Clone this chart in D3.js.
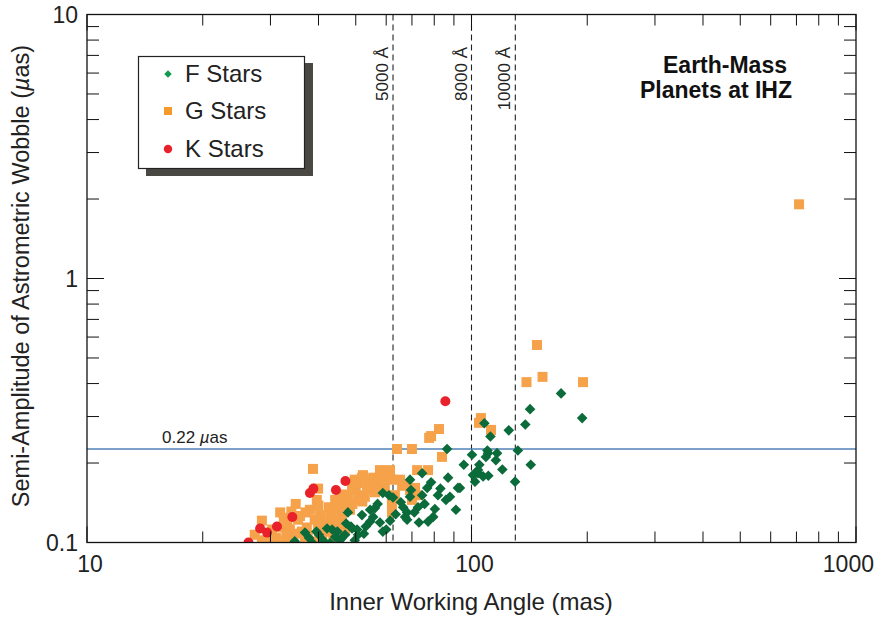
<!DOCTYPE html>
<html>
<head>
<meta charset="utf-8">
<script src="https://cdn.jsdelivr.net/npm/d3@7"></script>
<style>
  html, body { margin: 0; padding: 0; background: #ffffff; }
  svg { display: block; font-family: "Liberation Sans", Arial, Helvetica, sans-serif; }
</style>
</head>
<body>
<svg id="chart" width="878" height="618"></svg>
<script>
// ---------------- DATA ----------------
// [Inner Working Angle (mas), Semi-amplitude of astrometric wobble (µas)]
const fStars = [
  [36.9,0.109],[34.7,0.101],[38.5,0.100],[40.1,0.107],[42.1,0.113],[43.4,0.112],[44.2,0.105],[45.5,0.102],
  [47.7,0.130],[48.9,0.113],[49.7,0.102],[46.9,0.107],[46.0,0.104],[41.1,0.102],[42.9,0.0996],[50.4,0.112],
  [48.6,0.115],[50.7,0.107],[51.9,0.127],[53.1,0.115],[54.5,0.120],[54.5,0.133],[56.1,0.135],[57.8,0.119],
  [58.8,0.110],[58.8,0.154],[61.0,0.151],[61.4,0.121],[62.5,0.148],[66.4,0.136],[67.2,0.125],[68.0,0.122],
  [68.0,0.130],[69.2,0.149],[69.2,0.173],[69.6,0.158],[72.6,0.136],[73.0,0.119],[74.4,0.183],[74.4,0.151],
  [77.1,0.120],[76.7,0.161],[78.5,0.169],[80.3,0.134],[81.8,0.151],[85.8,0.145],[86.9,0.176],[87.9,0.149],
  [91.1,0.133],[92.2,0.161],[86.4,0.226],[95.5,0.197],[100.3,0.215],[104.0,0.188],[60.0,0.112],
  [37.8,0.104],[39.5,0.110],[44.8,0.110],[47.2,0.118],[52.5,0.108],[55.5,0.125],[57.0,0.140],[63.5,0.128],
  [65.5,0.142],[71.0,0.130],[75.5,0.140],[79.5,0.125],[83.0,0.160],
  [171,0.367],[142,0.320],[194,0.296],[138,0.280],[108,0.283],[125,0.266],[112,0.252],[132,0.223],
  [110,0.223],[110.4,0.218],[116.5,0.218],[109.0,0.211],[115.7,0.205],[104.8,0.197],[142.6,0.197],
  [120.3,0.189],[102.1,0.182],[104.0,0.183],[100.9,0.180],[110.6,0.179],[107.2,0.178],[102.1,0.170],
  [129.8,0.170],[93.3,0.161]
];
const gStars = [
  [27.3,0.107],[28.5,0.121],[28.5,0.102],[29.6,0.105],[30.3,0.112],[30.8,0.099],[31.8,0.130],[32.2,0.114],
  [32.8,0.102],[33.2,0.120],[33.7,0.112],[34.1,0.104],[34.9,0.140],[35.4,0.122],[35.8,0.126],[36.2,0.110],
  [36.9,0.102],[37.3,0.114],[38.0,0.133],[38.7,0.190],[39.1,0.122],[39.6,0.145],[39.9,0.160],[39.9,0.114],
  [40.4,0.127],[40.9,0.102],[41.6,0.110],[42.1,0.119],[42.6,0.136],[42.9,0.125],[43.7,0.105],[44.2,0.145],
  [44.7,0.117],[45.5,0.141],[46.0,0.124],[46.9,0.112],[47.7,0.151],[47.7,0.142],[48.3,0.133],[48.9,0.161],
  [49.7,0.173],[50.0,0.158],[50.4,0.168],[50.7,0.145],[51.3,0.151],[51.9,0.176],[52.2,0.180],[52.8,0.149],
  [53.5,0.162],[54.5,0.173],[55.5,0.176],[56.1,0.155],[56.8,0.165],[57.8,0.188],[58.5,0.176],[59.2,0.158],
  [59.5,0.162],[60.6,0.185],[61.4,0.188],[61.8,0.173],[62.1,0.141],[62.1,0.130],[63.2,0.151],[65.2,0.173],
  [66.0,0.164],[67.2,0.165],[69.2,0.158],[71.3,0.161],[72.2,0.151],[70.0,0.145],[72.2,0.188],[77.1,0.188],
  [29.0,0.100],[31.0,0.104],[33.0,0.106],[35.0,0.108],[37.5,0.106],[39.0,0.101],[41.0,0.117],[43.0,0.129],
  [45.0,0.133],[47.0,0.137],[49.0,0.140],[52.0,0.143],[54.0,0.160],[56.5,0.170],[46.0,0.152],[44.5,0.122],
  [40.0,0.138],[37.0,0.130],[34.0,0.131],[32.5,0.124],
  [64.0,0.226],[70.0,0.226],[78.5,0.253],[77.6,0.249],[82.3,0.269],[83.8,0.211],
  [105.8,0.296],[104.6,0.284],[112.4,0.267],[139,0.405],[148,0.56],[153,0.424],[195,0.405],[711,1.91]
];
const kStars = [
  [26.3,0.100],[28.2,0.113],[29.4,0.109],[31.2,0.115],[34.2,0.125],[38.0,0.154],[38.8,0.160],
  [44.4,0.158],[47.0,0.171],[85.5,0.343]
];
const wavelengthLines = [ { iwa: 62.5, label: "5000 Å" }, { iwa: 100, label: "8000 Å" }, { iwa: 130, label: "10000 Å" } ];
const thresholdValue = 0.226;
const thresholdLabel = ["0.22 ", "µ", "as"];
const xMajorTicks = [10, 100, 1000];
const xMinorTicks = [20,30,40,50,60,70,80,90,200,300,400,500,600,700,800,900];
const yMajorTicks = [0.1, 1, 10];
const yMinorTicks = [0.2,0.3,0.4,0.5,0.6,0.7,0.8,0.9,2,3,4,5,6,7,8,9];
const xTickLabels = ["10", "100", "1000"];
const yTickLabels = ["0.1", "1", "10"];
const legendLabels = ["F Stars", "G Stars", "K Stars"];
const titleLines = ["Earth-Mass", "Planets at IHZ"];
const xAxisTitle = "Inner Working Angle (mas)";
const yAxisTitle = ["Semi-Amplitude of Astrometric Wobble (", "µ", "as)"];

// ---------------- LAYOUT ----------------
const L = 87, R = 856, T = 14.5, B = 542.5;
const colors = { F: "#0b6b3a", G: "#f6a24a", K: "#e8212b", Flegend: "#109a4f" };

const svg = d3.select("#chart");
const x = d3.scaleLog().domain([10, 1000]).range([L, R]);
const y = d3.scaleLog().domain([0.1, 10]).range([B, T]);

svg.append("defs").append("clipPath").attr("id", "plotclip")
  .append("rect").attr("x", L).attr("y", T).attr("width", R - L).attr("height", B - T);

// wavelength dashed lines
const wl = svg.append("g");
wl.selectAll("line").data(wavelengthLines).join("line")
  .attr("x1", d => x(d.iwa)).attr("x2", d => x(d.iwa))
  .attr("y1", T).attr("y2", B)
  .attr("stroke", "#222").attr("stroke-width", 1.1).attr("stroke-dasharray", "6,4");
wl.selectAll("text").data(wavelengthLines).join("text")
  .attr("transform", d => `translate(${x(d.iwa) - 5},${47}) rotate(-90)`)
  .attr("text-anchor", "end")
  .attr("font-size", 17).attr("fill", "#222")
  .text(d => d.label);

// threshold line
svg.append("line")
  .attr("x1", L).attr("x2", R).attr("y1", y(thresholdValue)).attr("y2", y(thresholdValue))
  .attr("stroke", "#4f80b9").attr("stroke-width", 1.5);
const tl = svg.append("text").attr("x", 162).attr("y", y(thresholdValue) - 6)
  .attr("font-size", 17).attr("fill", "#222");
tl.selectAll("tspan").data(thresholdLabel).join("tspan")
  .attr("font-style", (d, i) => i === 1 ? "italic" : null).text(d => d);

// points
const pts = svg.append("g").attr("clip-path", "url(#plotclip)");
const sq = 10;
pts.selectAll("rect.g").data(gStars).join("rect").attr("class", "g")
  .attr("x", d => x(d[0]) - sq / 2).attr("y", d => y(d[1]) - sq / 2)
  .attr("width", sq).attr("height", sq).attr("fill", colors.G);
const diamond = d3.symbol().type(d3.symbolDiamond2).size(72);
pts.selectAll("path.f").data(fStars).join("path").attr("class", "f")
  .attr("d", diamond)
  .attr("transform", d => `translate(${x(d[0])},${y(d[1])})`)
  .attr("fill", colors.F);
pts.selectAll("circle.k").data(kStars).join("circle").attr("class", "k")
  .attr("cx", d => x(d[0])).attr("cy", d => y(d[1])).attr("r", 5)
  .attr("fill", colors.K);

// frame
svg.append("rect").attr("x", L).attr("y", T).attr("width", R - L).attr("height", B - T)
  .attr("fill", "none").attr("stroke", "#111").attr("stroke-width", 1.3);

// ticks (inward, all four sides)
const tk = svg.append("g").attr("stroke", "#111").attr("stroke-width", 1);
const xt = xMajorTicks.map(v => ({ v, len: 16 })).concat(xMinorTicks.map(v => ({ v, len: 11 })));
const yt = yMajorTicks.map(v => ({ v, len: 17 })).concat(yMinorTicks.map(v => ({ v, len: 12 })));
xt.forEach(d => {
  tk.append("line").attr("x1", x(d.v)).attr("x2", x(d.v)).attr("y1", B).attr("y2", B - d.len);
  tk.append("line").attr("x1", x(d.v)).attr("x2", x(d.v)).attr("y1", T).attr("y2", T + d.len);
});
yt.forEach(d => {
  tk.append("line").attr("y1", y(d.v)).attr("y2", y(d.v)).attr("x1", L).attr("x2", L + d.len);
  tk.append("line").attr("y1", y(d.v)).attr("y2", y(d.v)).attr("x1", R).attr("x2", R - d.len);
});

// tick labels
svg.append("g").selectAll("text").data(xMajorTicks).join("text")
  .attr("x", (d, i) => i === xMajorTicks.length - 1 ? 874 : x(d) + 3)
  .attr("y", 572)
  .attr("text-anchor", (d, i) => i === xMajorTicks.length - 1 ? "end" : "middle")
  .attr("font-size", 23).attr("fill", "#222").text((d, i) => xTickLabels[i]);
svg.append("g").selectAll("text").data(yMajorTicks).join("text")
  .attr("x", 78).attr("y", d => y(d) + 8).attr("text-anchor", "end")
  .attr("font-size", 23).attr("fill", "#222").text((d, i) => yTickLabels[i]);

// axis titles
svg.append("text").attr("x", 471).attr("y", 610).attr("text-anchor", "middle")
  .attr("font-size", 24).attr("fill", "#222").text(xAxisTitle);
const yl = svg.append("text").attr("transform", `translate(29,${276}) rotate(-90)`).attr("text-anchor", "middle")
  .attr("font-size", 23.5).attr("fill", "#222");
yl.selectAll("tspan").data(yAxisTitle).join("tspan")
  .attr("font-style", (d, i) => i === 1 ? "italic" : null).text(d => d);

// title
svg.append("g").selectAll("text").data(titleLines).join("text")
  .attr("x", (d, i) => i === 0 ? 725 : 716).attr("y", (d, i) => 73 + i * 25).attr("text-anchor", "middle")
  .attr("font-size", 23).attr("font-weight", "bold").attr("fill", "#111").text(d => d);

// legend
const lg = svg.append("g");
lg.append("rect").attr("x", 146).attr("y", 63).attr("width", 167).attr("height", 113).attr("fill", "#4a4843");
lg.append("rect").attr("x", 138.5).attr("y", 56.5).attr("width", 166).attr("height", 112)
  .attr("fill", "#fff").attr("stroke", "#222").attr("stroke-width", 1.2);
const ly = [74, 111, 149];
lg.append("path").attr("d", d3.symbol().type(d3.symbolDiamond2).size(36)).attr("transform", `translate(168,${ly[0]})`).attr("fill", colors.Flegend);
lg.append("rect").attr("x", 164).attr("y", ly[1] - 4).attr("width", 8).attr("height", 8).attr("fill", "#f59a2a");
lg.append("circle").attr("cx", 168).attr("cy", ly[2]).attr("r", 4.2).attr("fill", colors.K);
lg.selectAll("text").data(legendLabels).join("text")
  .attr("x", 185).attr("y", (d, i) => ly[i] + 8).attr("font-size", 24).attr("fill", "#222").text(d => d);
</script>
</body>
</html>
